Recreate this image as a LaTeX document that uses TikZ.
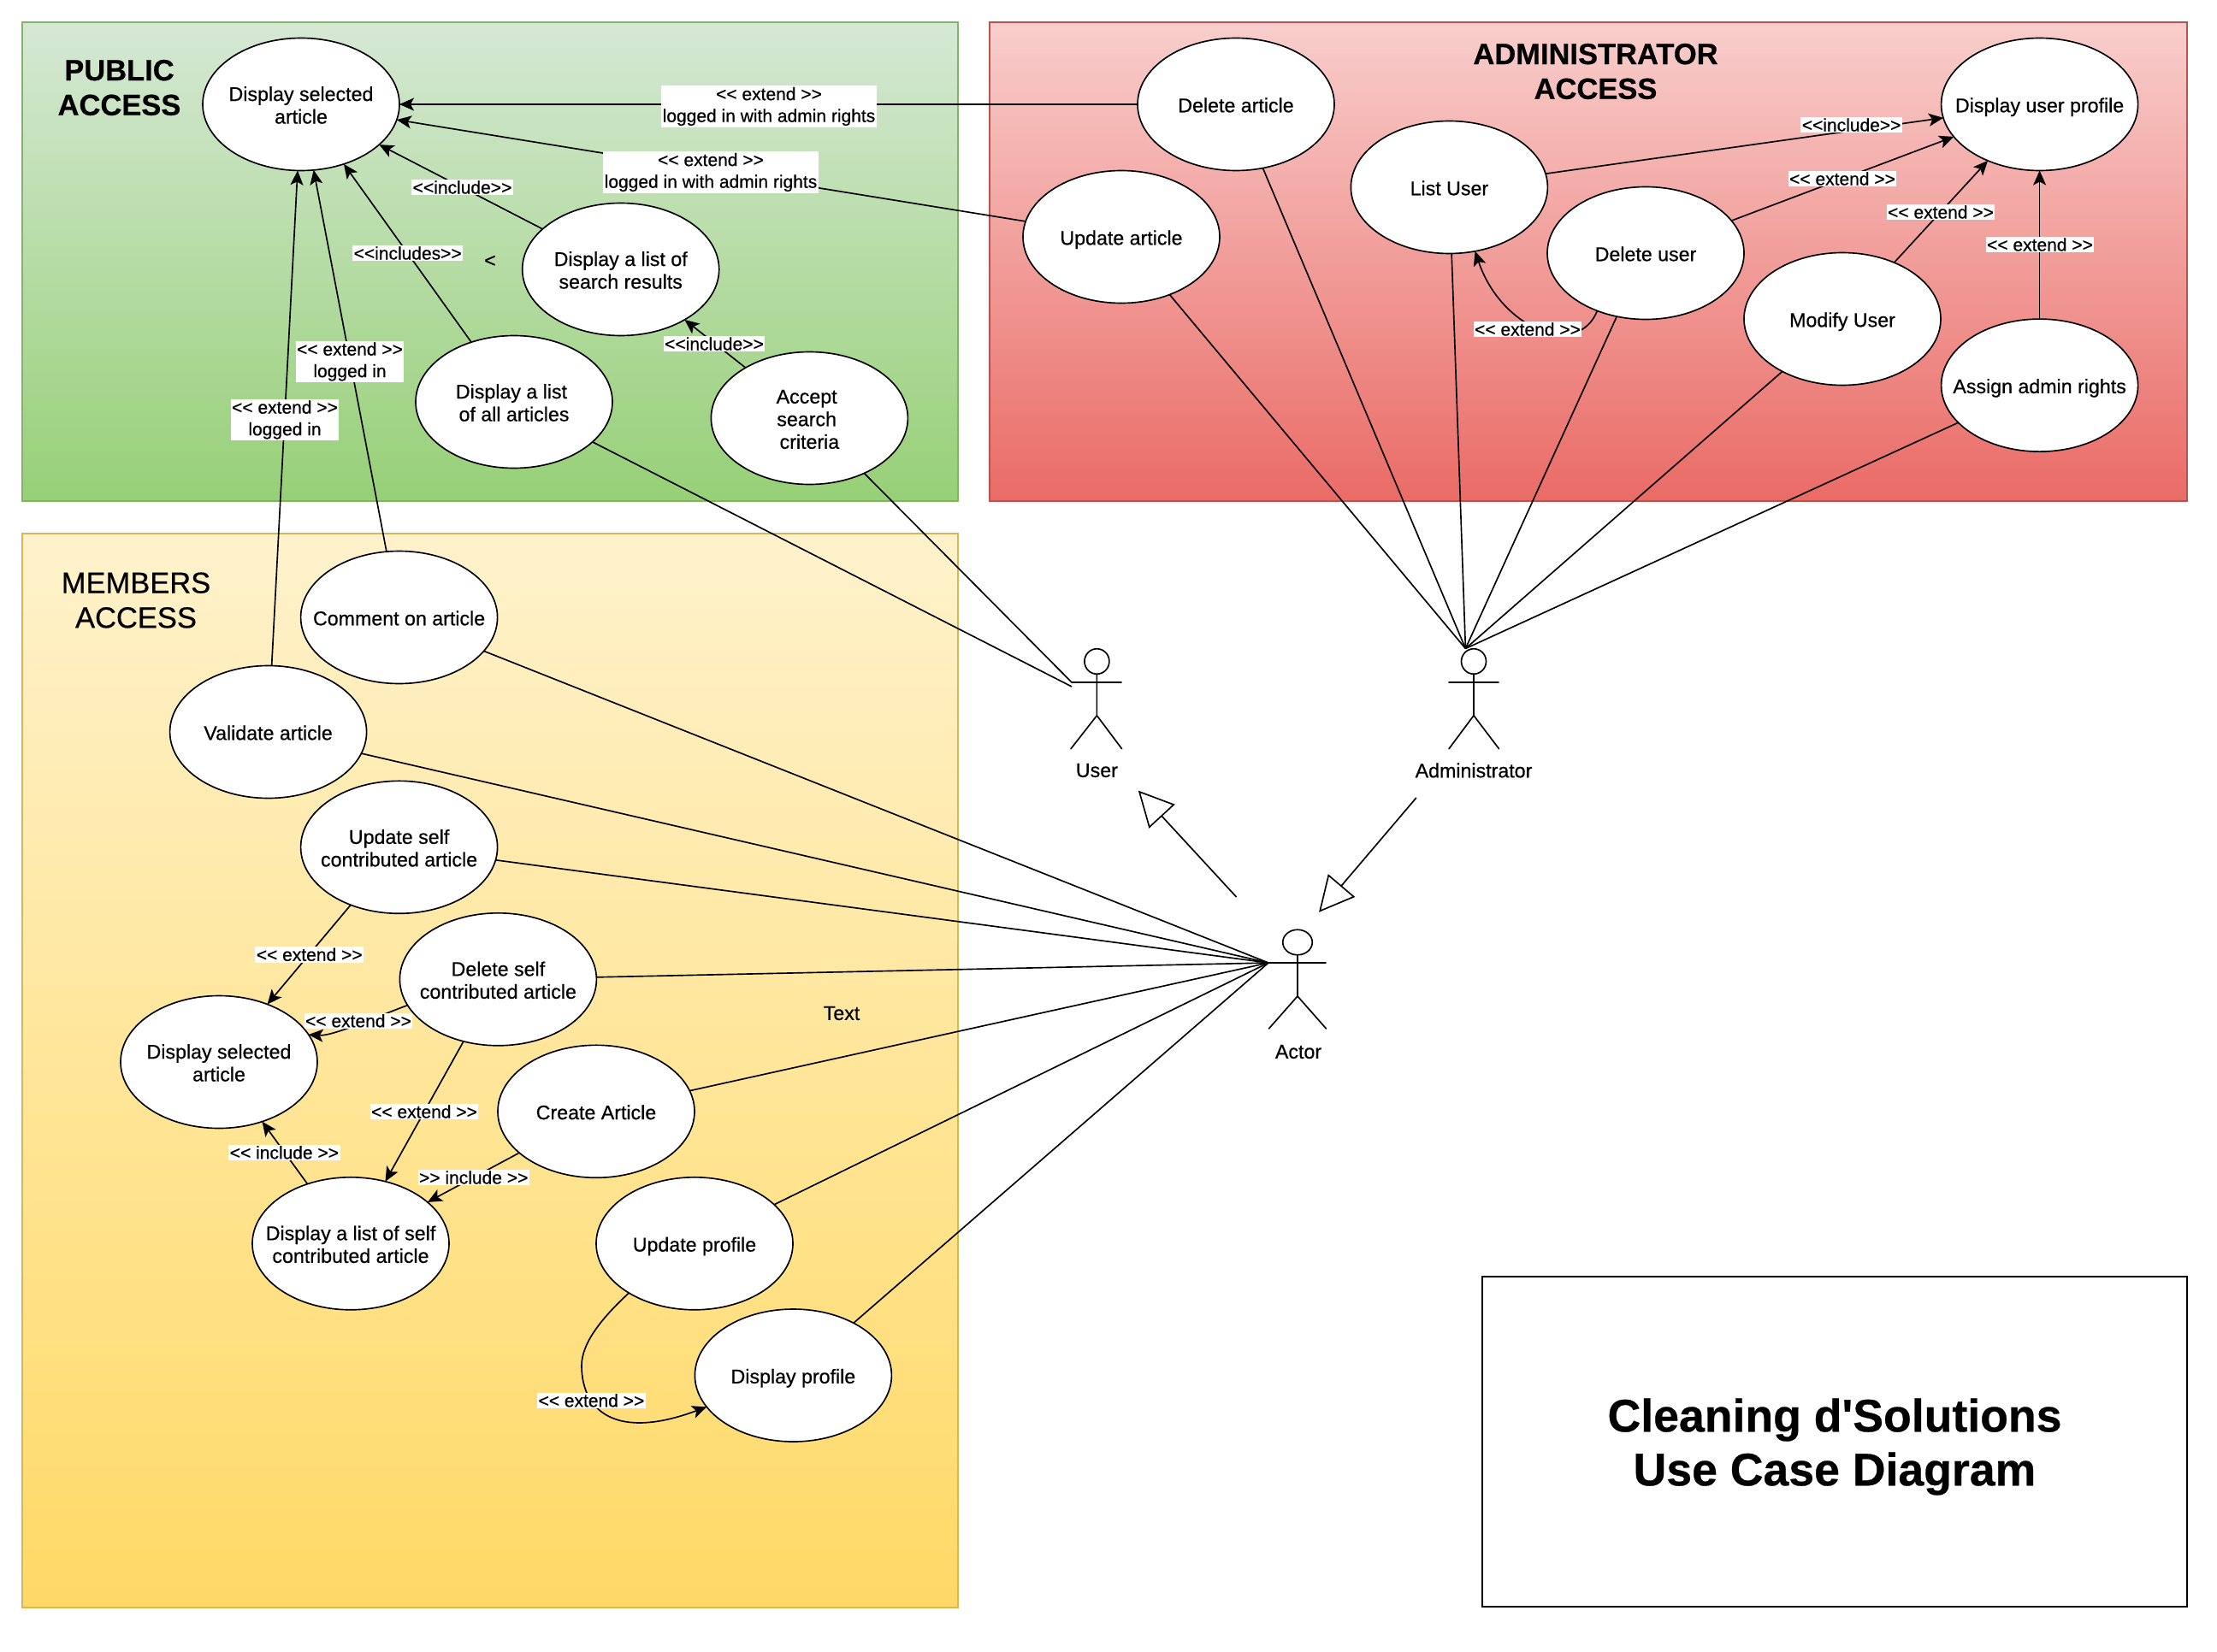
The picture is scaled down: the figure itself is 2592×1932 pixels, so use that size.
\documentclass[tikz,border=0pt]{standalone}
\usepackage{fontspec}
\setmainfont{Liberation Sans}[RawFeature={embolden=0.5},BoldFeatures={RawFeature={embolden=0.5}}]
\newfontfamily\plainfont{Liberation Sans}[Ligatures=ResetAll,RawFeature={embolden=0.5},BoldFeatures={RawFeature={embolden=0.5}}]
\usetikzlibrary{shapes.geometric,arrows.meta}
\definecolor{gTop}{HTML}{D5E8D4}\definecolor{gBot}{HTML}{97D077}\definecolor{gLine}{HTML}{82B366}
\definecolor{rTop}{HTML}{F8CECC}\definecolor{rBot}{HTML}{EA6B66}\definecolor{rLine}{HTML}{B85450}
\definecolor{yTop}{HTML}{FFF2CC}\definecolor{yBot}{HTML}{FFD966}\definecolor{yLine}{HTML}{D6B656}
\newcommand{\ut}[1]{\makebox[0pt]{\raisebox{0pt}[\dimexpr\height+8pt][\depth]{\begin{tabular}{@{}c@{}}#1\end{tabular}}}}
\newcommand{\xo}{<{}<}
\newcommand{\xc}{>{}>}
\tikzset{
  usecase/.style={ellipse,draw=black,fill=white,line width=1.65pt,minimum width=230pt,minimum height=155pt,inner sep=0pt,outer sep=0pt,font=\fontsize{23.2}{26.5}\selectfont},
  lnk/.style={line width=1.65pt,draw=black},
  arr/.style={lnk,-{Stealth[length=17pt,width=15pt,inset=4pt]}},
  gen/.style={lnk,-{Triangle[open,length=41pt,width=41pt]}},
  elabel/.style={fill=white,inner xsep=1.5pt,inner ysep=1.5pt,align=center,font=\fontsize{21}{25.5}\selectfont},
  txt/.style={inner sep=0pt,align=center,font=\fontsize{23.2}{26.5}\selectfont},
  grouptitle/.style={inner sep=0pt,align=center,font=\fontsize{34.5}{40.7}\selectfont},
  actorline/.style={line width=1.65pt,draw=black,line cap=round}
}
\begin{document}
\begin{tikzpicture}[x=1pt,y=-1pt]
\useasboundingbox (0,0) rectangle (2592,1932);
\fill[white] (0,0) rectangle (2592,1932);
% panels
\shade[top color=gTop,bottom color=gBot,draw=gLine,line width=1.65pt] (26,26) rectangle (1120,586);
\shade[top color=rTop,bottom color=rBot,draw=rLine,line width=1.65pt] (1157,26) rectangle (2557,586);
\shade[top color=yTop,bottom color=yBot,draw=yLine,line width=1.65pt] (26,624) rectangle (1120,1880);
\node[draw=black,line width=1.65pt,minimum width=824pt,minimum height=386pt,inner sep=0pt,outer sep=0pt] (titlebox) at (2145,1686) {};
\node[inner sep=0pt,align=center,font=\plainfont\bfseries\fontsize{53.6}{63}\selectfont] (titletext) at (2145,1692) {Cleaning d'Solutions\\Use Case Diagram};
% group titles
\node[grouptitle,font=\bfseries\fontsize{34.5}{40.7}\selectfont] (tpublic) at (139.5,102.5) {PUBLIC\\ACCESS};
\node[grouptitle,font=\bfseries\fontsize{34.5}{40.7}\selectfont] (tadmin) at (1865.5,83.5) {ADMINISTRATOR\\ACCESS};
\node[grouptitle] (tmembers) at (159,702) {MEMBERS\\ACCESS};
% use cases: public
\node[usecase] (dsa) at (352,122) {\ut{Display selected\\article}};
\node[usecase] (search) at (725.7,315) {\ut{Display a list of\\search results}};
\node[usecase] (allart) at (601,470) {\ut{Display a list\hspace*{6pt}\\of all articles}};
\node[usecase] (accept) at (946.4,489) {\ut{Accept\hspace*{6.5pt}\\search\hspace*{6.5pt}\\criteria}};
% admin
\node[usecase] (delart) at (1445,122) {\ut{Delete article}};
\node[usecase] (updart) at (1311,277) {\ut{Update article}};
\node[usecase] (listuser) at (1694.4,219) {\ut{List User}};
\node[usecase] (deluser) at (1924,296) {\ut{Delete user}};
\node[usecase] (moduser) at (2154,373) {\ut{Modify User}};
\node[usecase] (assign) at (2384.6,450.6) {\ut{Assign admin rights}};
\node[usecase] (dup) at (2384.6,122) {\ut{Display user profile}};
% members
\node[usecase] (comment) at (466.6,722) {\ut{Comment on article}};
\node[usecase] (validate) at (313.6,856) {\ut{Validate article}};
\node[usecase] (updself) at (466.6,990.8) {\ut{Update self\\contributed article}};
\node[usecase] (delself) at (582.4,1145.3) {\ut{Delete self\\contributed article}};
\node[usecase] (create) at (697,1299.8) {\ut{Create Article}};
\node[usecase] (updprof) at (812,1454.3) {\ut{Update profile}};
\node[usecase] (dispprof) at (927.4,1608.5) {\ut{Display profile}};
\node[usecase] (dsb) at (256,1242) {\ut{Display selected\\article}};
\node[usecase] (listself) at (410,1454.3) {\ut{Display a list of self\\contributed article}};
% actor anchor coordinates
\coordinate (userA) at (1253,798);
\coordinate (userB) at (1253,803);
\coordinate (adminT) at (1713.4,758.5);
\coordinate (actorL) at (1483,1126);
% actors
\node[draw=black,line width=1.65pt,ellipse,minimum width=29pt,minimum height=29.5pt,inner sep=0pt,outer sep=0pt] (uhead) at (1282.4,773.5) {};
\coordinate (uhip) at (1282.4,836.8);
\draw[actorline] (uhead.south) -- (uhip) (1253,798) -- (1311,798) (1252,875.7) -- (uhip) -- (1311.6,875.7);
\node[txt] (ulabel) at (1282.4,901) {User};
\node[draw=black,line width=1.65pt,ellipse,minimum width=29pt,minimum height=29.5pt,inner sep=0pt,outer sep=0pt] (ahead) at (1723,773.5) {};
\coordinate (ahip) at (1723,836.8);
\draw[actorline] (ahead.south) -- (ahip) (1694,798) -- (1752,798) (1694,875.7) -- (ahip) -- (1752.5,875.7);
\node[txt] (alabel) at (1723,901) {Administrator};
\node[draw=black,line width=1.65pt,ellipse,minimum width=34.5pt,minimum height=29.5pt,inner sep=0pt,outer sep=0pt] (chead) at (1517,1102) {};
\coordinate (chip) at (1517,1165);
\draw[actorline] (chead.south) -- (chip) (1483,1126) -- (1550,1126) (1483.5,1203) -- (chip) -- (1550.5,1203);
\node[txt] (clabel) at (1518,1230) {Actor};
% generalisations
\coordinate (g1a) at (1445.5,1049);
\coordinate (g1b) at (1330.8,924.6);
\coordinate (g2a) at (1655.8,933);
\coordinate (g2b) at (1542,1066.8);
\draw[gen] (g1a) -- (g1b);
\draw[gen] (g2a) -- (g2b);
% association lines
\draw[lnk] (allart) -- (userB);
\draw[lnk] (accept) -- (userA);
\foreach \n in {updart,delart,listuser,deluser,moduser,assign}{\draw[lnk] (\n) -- (adminT);}
\foreach \n in {comment,validate,updself,delself,create,updprof,dispprof}{\draw[lnk] (\n) -- (actorL);}
% arrows
\draw[arr] (delart) -- (dsa);
\draw[arr] (updart) -- (dsa);
\draw[arr] (search) -- (dsa);
\draw[arr] (allart) -- (dsa);
\draw[arr] (accept) -- (search);
\draw[arr] (comment) -- (dsa);
\draw[arr] (validate) -- (dsa);
\draw[arr] (listuser) -- (dup);
\draw[arr] (deluser) -- (dup);
\draw[arr] (moduser) -- (dup);
\draw[arr] (assign) -- (dup);
\draw[arr] (deluser.230) .. controls (1845,420) and (1755,385) .. (listuser.292);
\draw[arr] (updself) -- (dsb);
\draw[arr] (delself.196) .. controls (450,1185) and (390,1212) .. (dsb.17);
\draw[arr] (delself) -- (listself);
\draw[arr] (listself) -- (dsb);
\draw[arr] (create) -- (listself);
\draw[arr] (updprof.217) .. controls (705,1540) and (680,1570) .. (680,1597) .. controls (680,1650) and (720,1685) .. (dispprof.200);
% labels
\node[elabel] (l1) at (899,124.5) {\xo{} extend \xc\\logged in with admin rights};
\node[elabel] (l2) at (831,201.5) {\xo{} extend \xc\\logged in with admin rights};
\node[elabel] (l3) at (540.5,219) {\xo include\xc};
\node[elabel] (l4) at (476.7,296) {\xo includes\xc};
\node[elabel] (l5) at (835,402) {\xo include\xc};
\node[elabel] (l6) at (409,423) {\xo{} extend \xc\\logged in};
\node[elabel] (l7) at (333,491) {\xo{} extend \xc\\logged in};
\node[elabel] (l8) at (2164.6,146) {\xo include\xc};
\node[elabel] (l9) at (2154,209) {\xo{} extend \xc};
\node[elabel] (l10) at (2269,248) {\xo{} extend \xc};
\node[elabel] (l11) at (2385,286) {\xo{} extend \xc};
\node[elabel] (l12) at (1786,385) {\xo{} extend \xc};
\node[elabel] (l13) at (361.7,1116.3) {\xo{} extend \xc};
\node[elabel] (l14) at (419,1193.8) {\xo{} extend \xc};
\node[elabel] (l15) at (496,1300) {\xo{} extend \xc};
\node[elabel] (l16) at (332.4,1347.8) {\xo{} include \xc};
\node[elabel] (l17) at (553.7,1377) {\xc{} include \xc};
\node[elabel] (l18) at (691.4,1637.8) {\xo{} extend \xc};
\node[txt] (stray) at (573,305.6) {<};
\node[txt] (textlabel) at (984,1185) {Text};
\end{tikzpicture}
\end{document}
